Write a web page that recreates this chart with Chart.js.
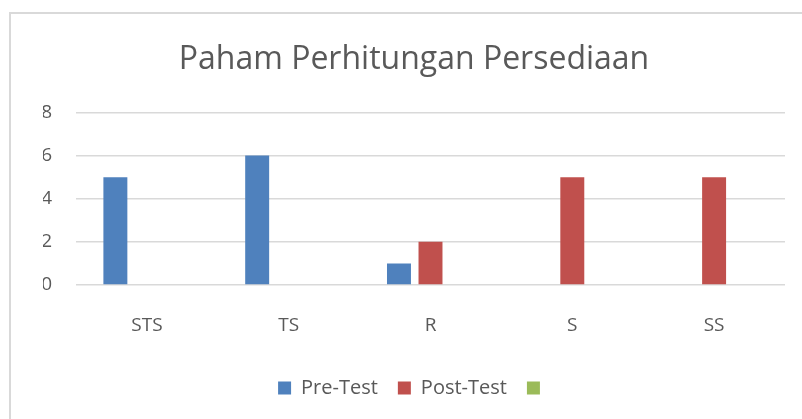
<!DOCTYPE html>
<html>
<head>
<meta charset="utf-8">
<script src="https://cdn.jsdelivr.net/npm/chart.js@4"></script>
<style>
    html, body { margin: 0; padding: 0; background: #fff; overflow: hidden; }
    #frame {
        position: absolute; left: 9px; top: 12px;
        width: 900px; height: 500px;
        border: 2px solid #d9d9d9;
    }
    #wrap { position: absolute; left: 0; top: 0; width: 802px; height: 419px; }
</style>
</head>
<body>
<div id="frame"></div>
<div id="wrap"><canvas id="chart"></canvas></div>
<script>
// Chart data
var categories = ['STS', 'TS', 'R', 'S', 'SS'];
var preTest = [5, 6, 1, 0, 0];
var postTest = [0, 0, 2, 5, 5];
var thirdSeries = [null, null, null, null, null];
var yTicks = [0, 2, 4, 6, 8];

var textColor = '#595959';
var fontFamily = '"Open Sans", "Liberation Sans", sans-serif';

var ctx = document.getElementById('chart');

new Chart(ctx, {
    type: 'bar',
    data: {
        labels: categories,
        datasets: [
            {
                label: 'Pre-Test',
                data: preTest,
                backgroundColor: '#4f81bd',
                borderColor: '#4f81bd',
                borderWidth: 0
            },
            {
                label: 'Post-Test',
                data: postTest,
                backgroundColor: '#c0504d',
                borderColor: '#c0504d',
                borderWidth: 0
            },
            {
                label: '',
                data: thirdSeries,
                backgroundColor: '#9bbb59',
                borderColor: '#9bbb59',
                borderWidth: 0
            }
        ]
    },
    options: {
        responsive: true,
        maintainAspectRatio: false,
        animation: false,
        categoryPercentage: 0.667,
        barPercentage: 0.76,
        layout: { padding: { top: 41, left: 43, right: 17, bottom: 11 } },
        plugins: {
            title: {
                display: true,
                text: 'Paham Perhitungan Persediaan',
                color: textColor,
                font: { family: fontFamily, size: 32, weight: 'normal' },
                padding: { top: 0, bottom: 33 }
            },
            legend: {
                position: 'bottom',
                labels: {
                    color: textColor,
                    font: { family: fontFamily, size: 20 },
                    boxWidth: 13,
                    boxHeight: 13,
                    padding: 20
                }
            },
            tooltip: { enabled: false }
        },
        scales: {
            x: {
                afterFit: function(axis) { axis.height = 73; },
                grid: { display: false, drawTicks: false },
                border: { display: false },
                ticks: {
                    color: textColor,
                    font: { family: fontFamily, size: 19 },
                    padding: 29
                }
            },
            y: {
                min: 0,
                max: 8,
                afterBuildTicks: function(axis) {
                    axis.ticks = yTicks.map(function(v) { return { value: v }; });
                },
                afterFit: function(axis) { axis.width = 33; },
                grid: { color: '#d9d9d9', lineWidth: 1.5, drawTicks: false },
                border: { display: false },
                ticks: {
                    color: textColor,
                    font: { family: fontFamily, size: 19 },
                    padding: 24
                }
            }
        }
    }
});
</script>
</body>
</html>
